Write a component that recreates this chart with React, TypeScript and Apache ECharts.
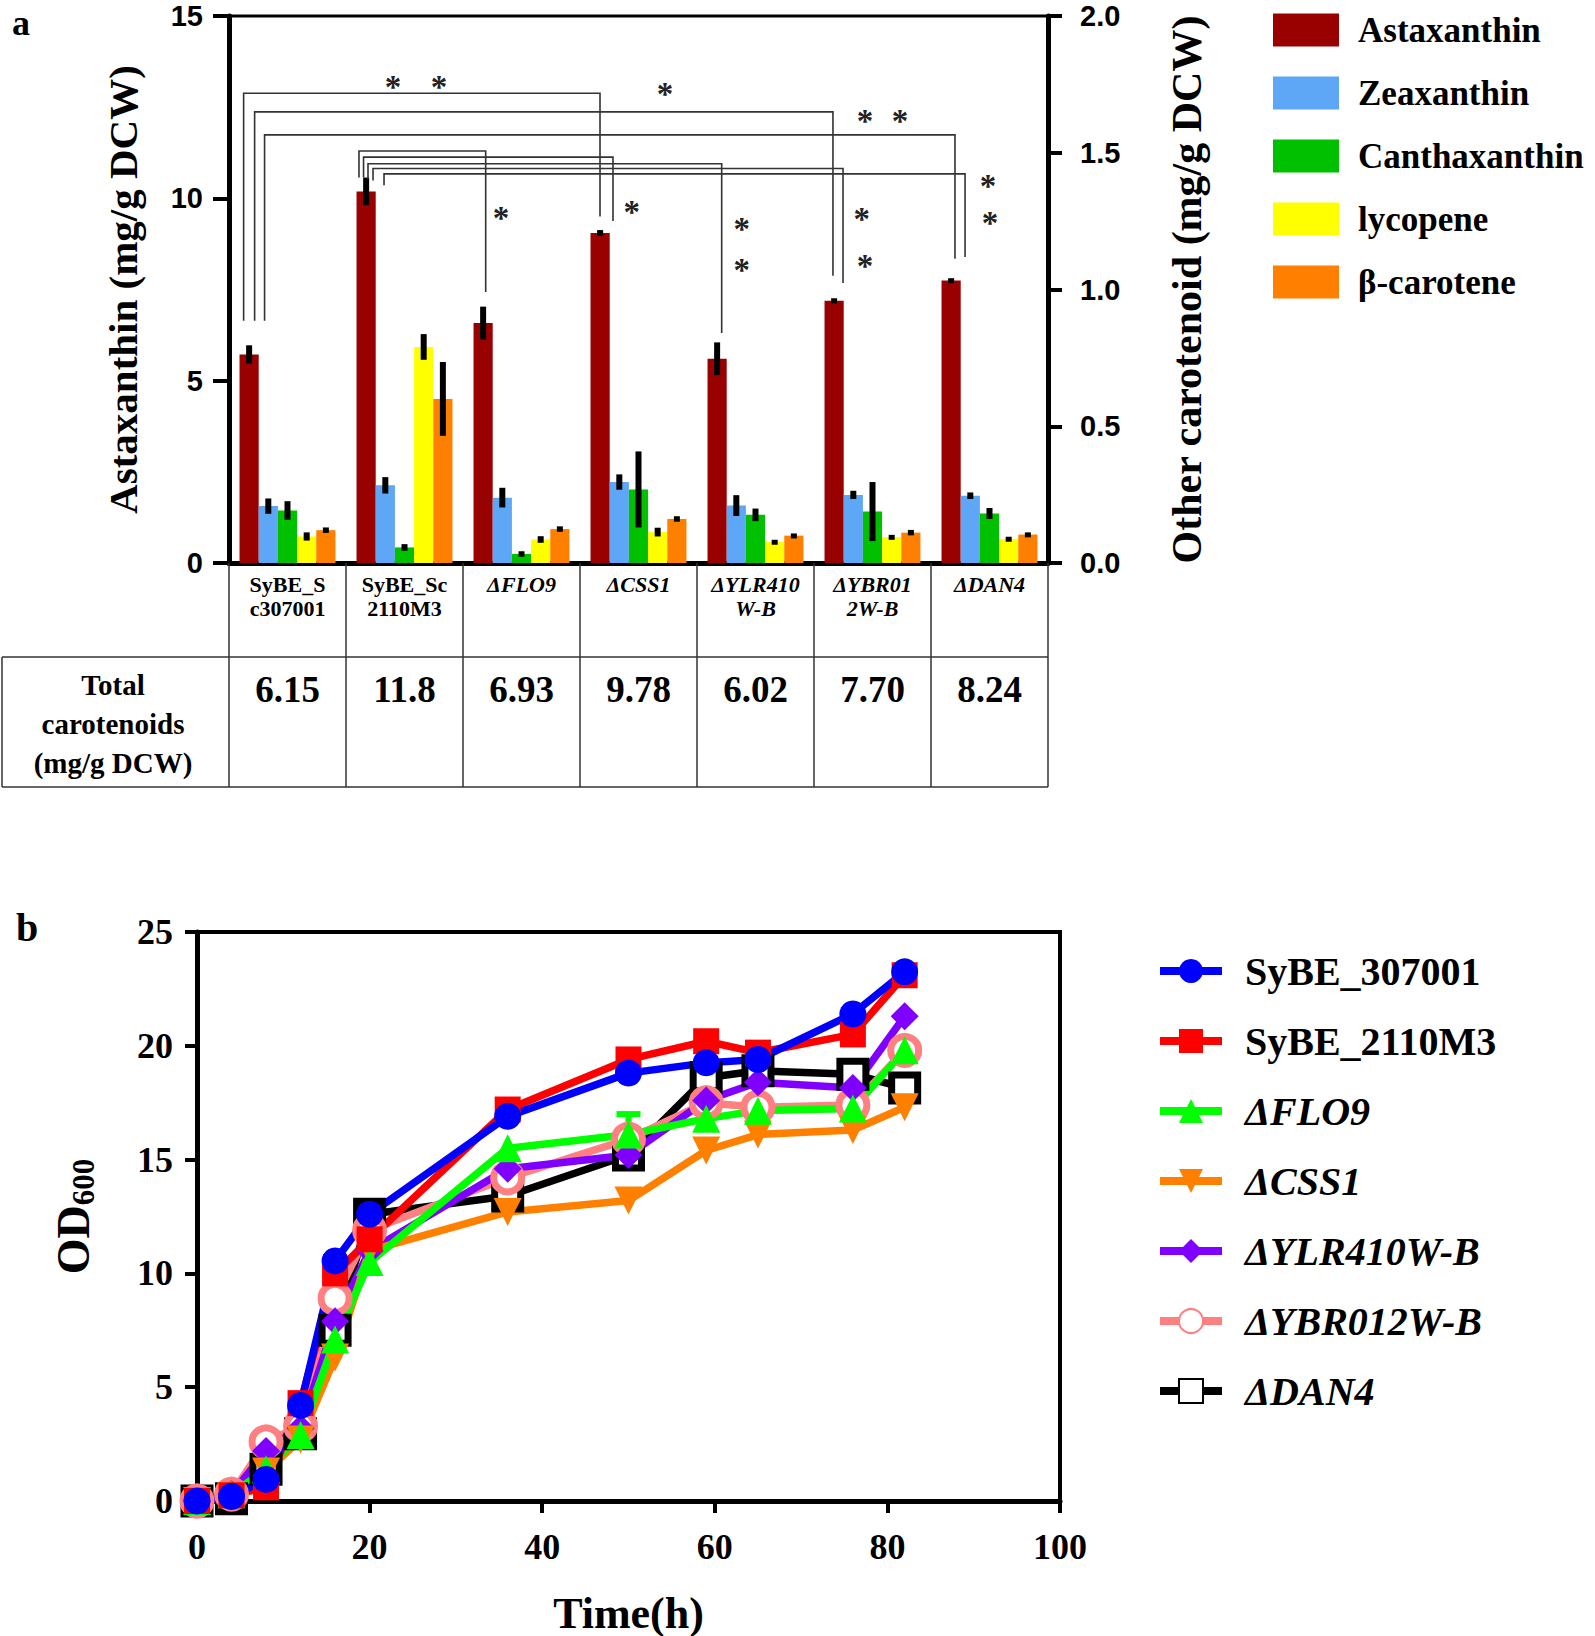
import React, { useEffect, useRef } from 'react';
import * as echarts from 'echarts';

// ---------- Panel a data ----------
const categories = ['SyBE_S\nc307001', 'SyBE_Sc\n2110M3', 'ΔFLO9', 'ΔCSS1', 'ΔYLR410\nW-B', 'ΔYBR01\n2W-B', 'ΔDAN4'];
const italicCats = [false, false, true, true, true, true, true];
const totals = ['6.15', '11.8', '6.93', '9.78', '6.02', '7.70', '8.24'];
const leftTicks = [0, 5, 10, 15];

const astaxanthin = [5.72, 10.19, 6.58, 9.05, 5.6, 7.19, 7.75];
const astaxanthinErr = [0.25, 0.38, 0.45, 0.08, 0.45, 0.07, 0.06];
const zeaxanthin = [0.208, 0.284, 0.239, 0.296, 0.21, 0.249, 0.246];
const zeaxanthinErr = [0.028, 0.03, 0.036, 0.028, 0.038, 0.015, 0.012];
const canthaxanthin = [0.192, 0.057, 0.033, 0.269, 0.176, 0.188, 0.181];
const canthaxanthinErr = [0.034, 0.012, 0.01, 0.139, 0.023, 0.108, 0.02];
const lycopene = [0.097, 0.79, 0.086, 0.113, 0.077, 0.095, 0.088];
const lycopeneErr = [0.015, 0.047, 0.012, 0.016, 0.008, 0.008, 0.008];
const betaCarotene = [0.12, 0.6, 0.124, 0.161, 0.1, 0.111, 0.104];
const betaCaroteneErr = [0.01, 0.135, 0.01, 0.01, 0.008, 0.01, 0.008];

// significance brackets: [x start (category units), x end, level, start bottom, end bottom] (left-axis values)
const brackets = [
  [-0.375, 2.671, 12.88, 6.64, 9.5],
  [-0.281, 4.662, 12.37, 6.64, 7.88],
  [-0.196, 5.705, 11.74, 6.64, 8.34],
  [0.611, 1.694, 11.3, 10.57, 7.43],
  [0.65, 2.782, 11.13, 10.57, 9.38],
  [0.688, 3.711, 10.95, 10.52, 6.31],
  [0.731, 4.748, 10.82, 10.49, 7.68],
  [0.825, 5.791, 10.67, 10.36, 8.39],
];
// asterisk marks: [x (category units), y (left-axis value)]
const stars = [
  [0.902, 13.2], [1.295, 13.2], [3.226, 13.0], [4.936, 12.27], [5.235, 12.27],
  [1.825, 9.6], [2.942, 9.76], [3.882, 9.3], [3.882, 8.18], [4.908, 9.57],
  [4.936, 8.29], [5.987, 10.47], [6.004, 9.45],
];

// ---------- Panel b data ----------
const times = [0, 4, 8, 12, 16, 20, 36, 50, 59, 65, 76, 82];
const od307001 = [0, 0.2, 0.95, 4.2, 10.55, 12.6, 16.9, 18.8, 19.25, 19.4, 21.4, 23.25];
const od2110M3 = [0, 0.25, 0.6, 4.3, 10.0, 11.5, 17.2, 19.4, 20.2, 19.7, 20.5, 23.1];
const odFLO9 = [0, 0.3, 1.4, 2.9, 7.1, 10.5, 15.5, 16.1, 16.8, 17.15, 17.25, 19.8];
const odFLO9Err = [0, 0, 0, 0, 0, 0, 0, 0.9, 0, 0, 0, 0];
const odCSS1 = [0, 0.2, 1.3, 2.7, 6.3, 11.0, 12.7, 13.2, 15.4, 16.1, 16.3, 17.3];
const odYLR = [0, 0.3, 2.2, 3.2, 7.9, 11.0, 14.6, 15.2, 17.6, 18.4, 18.15, 21.3];
const odYBR = [0, 0.3, 2.6, 3.3, 8.9, 11.9, 14.2, 15.9, 17.5, 17.3, 17.4, 19.8];
const odDAN4 = [0, 0.1, 1.4, 2.95, 7.5, 12.6, 13.4, 15.2, 18.6, 18.9, 18.75, 18.15];
const lineNames = ['SyBE_307001', 'SyBE_2110M3', 'ΔFLO9', 'ΔCSS1', 'ΔYLR410W-B', 'ΔYBR012W-B', 'ΔDAN4'];

const SERIF = "'Liberation Serif', 'Times New Roman', serif";
const SANS = "'Liberation Sans', Arial, sans-serif";
const GAP = 0.18;

function barErr(vals: number[], errs: number[], k: number, yAxisIndex: number) {
  return {
    type: 'custom',
    xAxisIndex: 0,
    yAxisIndex,
    silent: true,
    z: 5,
    data: vals.map((v, i) => [i, v, errs[i]]),
    renderItem: (params: any, api: any) => {
      const i = api.value(0), v = api.value(1), e = api.value(2);
      const band = api.size([1, 0])[0];
      const bw = (band * (1 - GAP)) / 5;
      const cx = api.coord([i, v])[0] + (k - 2) * bw;
      const top = api.coord([i, v + e])[1];
      const bot = api.coord([i, Math.max(v - e, 0)])[1];
      return {
        type: 'rect',
        shape: { x: cx - 3, y: top, width: 6, height: Math.max(bot - top, 5) },
        style: { fill: '#000' },
      };
    },
  };
}

function lineSeries(name: string, vals: number[], color: string, symbol: string, size: number, extra: any = {}) {
  return {
    type: 'line',
    name,
    xAxisIndex: 3,
    yAxisIndex: 2,
    data: times.map((t, i) => [t, vals[i]]),
    symbol,
    symbolSize: size,
    lineStyle: { color, width: 7.5 },
    itemStyle: { color },
    ...extra,
  };
}

const catLabel = (val: string, idx: number) =>
  val.split('\n').map((l) => `{${italicCats[idx] ? 'i' : 'n'}|${l}}`).join('\n');

const option: any = {
  animation: false,
  backgroundColor: '#fff',
  textStyle: { fontFamily: SERIF },
  grid: [
    { left: 229, top: 16, width: 819, height: 547, show: true, borderColor: '#000', borderWidth: 3, backgroundColor: 'transparent' },
    { left: 197, top: 932, width: 863, height: 570, show: true, borderColor: '#000', borderWidth: 4, backgroundColor: 'transparent' },
  ],
  legend: [
    {
      data: ['Astaxanthin', 'Zeaxanthin', 'Canthaxanthin', 'lycopene', 'β-carotene'],
      orient: 'vertical',
      left: 1268,
      top: 6,
      icon: 'rect',
      itemWidth: 66,
      itemHeight: 33,
      itemGap: 25,
      textStyle: { fontFamily: SERIF, fontWeight: 'bold', fontSize: 35, color: '#000', lineHeight: 38, padding: [0, 0, 0, 14] },
    },
    {
      data: lineNames,
      orient: 'vertical',
      left: 1151,
      top: 945,
      itemWidth: 62,
      itemHeight: 30,
      itemGap: 28,
      lineStyle: { width: 8 },
      formatter: (n: string) => (n.startsWith('Δ') ? `{i|${n}}` : `{n|${n}}`),
      textStyle: {
        fontFamily: SERIF, fontWeight: 'bold', fontSize: 40, color: '#000', lineHeight: 42, padding: [0, 0, 0, 18],
        rich: {
          i: { fontFamily: SERIF, fontWeight: 'bold', fontStyle: 'italic', fontSize: 40, color: '#000' },
          n: { fontFamily: SERIF, fontWeight: 'bold', fontSize: 40, color: '#000' },
        },
      },
    },
  ],
  xAxis: [
    {
      type: 'category',
      gridIndex: 0,
      data: categories,
      position: 'bottom',
      axisLine: { onZero: false, lineStyle: { color: '#000', width: 5 } },
      axisTick: { show: true, length: 224, lineStyle: { color: '#333', width: 1.5 } },
      axisLabel: {
        margin: 9,
        interval: 0,
        formatter: catLabel,
        rich: {
          n: { fontFamily: SERIF, fontSize: 22, fontWeight: 'bold', color: '#000', lineHeight: 24 },
          i: { fontFamily: SERIF, fontSize: 22, fontWeight: 'bold', fontStyle: 'italic', color: '#000', lineHeight: 24 },
        },
      },
    },
    { type: 'value', gridIndex: 0, min: -0.5, max: 6.5, show: false, axisLine: { onZero: false } },
    {
      type: 'category',
      gridIndex: 0,
      data: totals,
      position: 'bottom',
      axisLine: { show: false, onZero: false },
      axisTick: { show: false },
      axisLabel: { margin: 108, interval: 0, fontFamily: SERIF, fontWeight: 'bold', fontSize: 37, color: '#000' },
    },
    {
      type: 'value',
      gridIndex: 1,
      min: 0,
      max: 100,
      interval: 20,
      name: 'Time(h)',
      nameLocation: 'middle',
      nameGap: 90,
      nameTextStyle: { fontFamily: SERIF, fontWeight: 'bold', fontSize: 44, color: '#000' },
      splitLine: { show: false },
      axisLine: { onZero: false, lineStyle: { color: '#000', width: 5 } },
      axisTick: { length: 12, lineStyle: { color: '#000', width: 4 } },
      axisLabel: { margin: 28, fontFamily: SERIF, fontWeight: 'bold', fontSize: 36, color: '#000' },
    },
  ],
  yAxis: [
    {
      type: 'value',
      gridIndex: 0,
      min: 0,
      max: 15,
      interval: 5,
      position: 'left',
      name: 'Astaxanthin (mg/g DCW)',
      nameLocation: 'middle',
      nameGap: 86,
      nameTextStyle: { fontFamily: SERIF, fontWeight: 'bold', fontSize: 41, color: '#000' },
      splitLine: { show: false },
      axisLine: { show: true, onZero: false, lineStyle: { color: '#000', width: 5 } },
      axisTick: { show: true, length: 16, lineStyle: { color: '#000', width: 4 } },
      axisLabel: {
        margin: 26, fontFamily: SANS, fontWeight: 'bold', fontSize: 29, color: '#000',
        formatter: (v: number) => (leftTicks.includes(v) ? String(v) : ''),
      },
    },
    {
      type: 'value',
      gridIndex: 0,
      min: 0,
      max: 2,
      interval: 0.5,
      position: 'right',
      name: 'Other carotenoid (mg/g DCW)',
      nameLocation: 'middle',
      nameGap: 118,
      nameTextStyle: { fontFamily: SERIF, fontWeight: 'bold', fontSize: 42, color: '#000' },
      splitLine: { show: false },
      axisLine: { show: true, onZero: false, lineStyle: { color: '#000', width: 5 } },
      axisTick: { show: true, length: 14, lineStyle: { color: '#000', width: 4 } },
      axisLabel: { margin: 32, fontFamily: SANS, fontWeight: 'bold', fontSize: 29, color: '#000', formatter: (v: number) => v.toFixed(1) },
    },
    {
      type: 'value',
      gridIndex: 1,
      min: 0,
      max: 25,
      interval: 5,
      name: '{a|OD}{b|600}',
      nameLocation: 'middle',
      nameGap: 98,
      nameTextStyle: {
        rich: {
          a: { fontFamily: SERIF, fontWeight: 'bold', fontSize: 46, color: '#000', lineHeight: 52 },
          b: { fontFamily: SERIF, fontWeight: 'bold', fontSize: 31, color: '#000', lineHeight: 52, verticalAlign: 'bottom', padding: [16, 0, 0, 0] },
        },
      },
      splitLine: { show: false },
      axisLine: { onZero: false, lineStyle: { color: '#000', width: 5 } },
      axisTick: { length: 12, lineStyle: { color: '#000', width: 4 } },
      axisLabel: { margin: 24, fontFamily: SERIF, fontWeight: 'bold', fontSize: 36, color: '#000' },
    },
  ],
  graphic: [
    { type: 'text', x: 12, y: 5, style: { text: 'a', font: `bold 36px ${SERIF}`, fill: '#000', verticalAlign: 'top' } },
    { type: 'text', x: 16, y: 907, style: { text: 'b', font: `bold 40px ${SERIF}`, fill: '#000', verticalAlign: 'top' } },
    { type: 'line', shape: { x1: 2, y1: 657, x2: 1048, y2: 657 }, style: { stroke: '#333', lineWidth: 1.5 } },
    { type: 'line', shape: { x1: 2, y1: 787, x2: 1048, y2: 787 }, style: { stroke: '#333', lineWidth: 1.5 } },
    { type: 'line', shape: { x1: 2, y1: 657, x2: 2, y2: 787 }, style: { stroke: '#333', lineWidth: 1.5 } },
    {
      type: 'text',
      x: 113,
      y: 724,
      style: {
        text: 'Total\ncarotenoids\n(mg/g DCW)',
        font: `bold 29px ${SERIF}`,
        fill: '#000',
        align: 'center',
        verticalAlign: 'middle',
        lineHeight: 39,
      },
    },
  ],
  series: [
    { type: 'bar', name: 'Astaxanthin', xAxisIndex: 0, yAxisIndex: 0, data: astaxanthin, barGap: '0%', barCategoryGap: '18%', itemStyle: { color: '#990000' } },
    { type: 'bar', name: 'Zeaxanthin', xAxisIndex: 0, yAxisIndex: 1, data: zeaxanthin, barGap: '0%', barCategoryGap: '18%', itemStyle: { color: '#5ea7f7' } },
    { type: 'bar', name: 'Canthaxanthin', xAxisIndex: 0, yAxisIndex: 1, data: canthaxanthin, barGap: '0%', barCategoryGap: '18%', itemStyle: { color: '#00c000' } },
    { type: 'bar', name: 'lycopene', xAxisIndex: 0, yAxisIndex: 1, data: lycopene, barGap: '0%', barCategoryGap: '18%', itemStyle: { color: '#ffff00' } },
    { type: 'bar', name: 'β-carotene', xAxisIndex: 0, yAxisIndex: 1, data: betaCarotene, barGap: '0%', barCategoryGap: '18%', itemStyle: { color: '#ff8000' } },
    barErr(astaxanthin, astaxanthinErr, 0, 0),
    barErr(zeaxanthin, zeaxanthinErr, 1, 1),
    barErr(canthaxanthin, canthaxanthinErr, 2, 1),
    barErr(lycopene, lycopeneErr, 3, 1),
    barErr(betaCarotene, betaCaroteneErr, 4, 1),
    {
      type: 'custom',
      xAxisIndex: 1,
      yAxisIndex: 0,
      silent: true,
      z: 6,
      data: brackets,
      renderItem: (params: any, api: any) => {
        const p1 = api.coord([api.value(0), api.value(3)]);
        const p2 = api.coord([api.value(0), api.value(2)]);
        const p3 = api.coord([api.value(1), api.value(2)]);
        const p4 = api.coord([api.value(1), api.value(4)]);
        return { type: 'polyline', shape: { points: [p1, p2, p3, p4] }, style: { stroke: '#333', lineWidth: 1.6, fill: null } };
      },
    },
    {
      type: 'custom',
      xAxisIndex: 1,
      yAxisIndex: 0,
      silent: true,
      z: 6,
      data: stars,
      renderItem: (params: any, api: any) => {
        const p = api.coord([api.value(0), api.value(1)]);
        return {
          type: 'text',
          x: p[0],
          y: p[1] + 5,
          style: { text: '*', font: `bold 33px ${SERIF}`, fill: '#222', align: 'center', verticalAlign: 'middle' },
        };
      },
    },
    lineSeries('ΔDAN4', odDAN4, '#000000', 'rect', 26, { itemStyle: { color: '#ffffff', borderColor: '#000000', borderWidth: 7 } }),
    lineSeries('ΔYBR012W-B', odYBR, '#ff8080', 'circle', 28, { itemStyle: { color: '#ffffff', borderColor: '#ff8080', borderWidth: 7 } }),
    lineSeries('ΔYLR410W-B', odYLR, '#8000ff', 'diamond', 28),
    lineSeries('ΔCSS1', odCSS1, '#ff8000', 'triangle', 28, { symbolRotate: 180 }),
    lineSeries('ΔFLO9', odFLO9, '#00ff00', 'triangle', 28),
    {
      type: 'custom',
      xAxisIndex: 3,
      yAxisIndex: 2,
      silent: true,
      z: 3,
      data: times.map((t, i) => [t, odFLO9[i], odFLO9Err[i]]).filter((d) => d[2] > 0),
      renderItem: (params: any, api: any) => {
        const x = api.coord([api.value(0), api.value(1)])[0];
        const t = api.coord([api.value(0), api.value(1) + api.value(2)])[1];
        const b = api.coord([api.value(0), api.value(1) - api.value(2)])[1];
        const st = { stroke: '#00ff00', lineWidth: 6 };
        return {
          type: 'group',
          children: [
            { type: 'line', shape: { x1: x, y1: t, x2: x, y2: b }, style: st },
            { type: 'line', shape: { x1: x - 12, y1: t, x2: x + 12, y2: t }, style: st },
            { type: 'line', shape: { x1: x - 12, y1: b, x2: x + 12, y2: b }, style: st },
          ],
        };
      },
    },
    lineSeries('SyBE_2110M3', od2110M3, '#ff0000', 'rect', 26),
    lineSeries('SyBE_307001', od307001, '#0000ff', 'circle', 27),
  ],
};

export default function App() {
  const ref = useRef<HTMLDivElement>(null);
  useEffect(() => {
    document.body.style.margin = '0';
    const chart = echarts.init(ref.current as HTMLDivElement, null, { renderer: 'svg' });
    chart.setOption(option);
    return () => chart.dispose();
  }, []);
  return <div ref={ref} style={{ width: 1595, height: 1636 }} />;
}
